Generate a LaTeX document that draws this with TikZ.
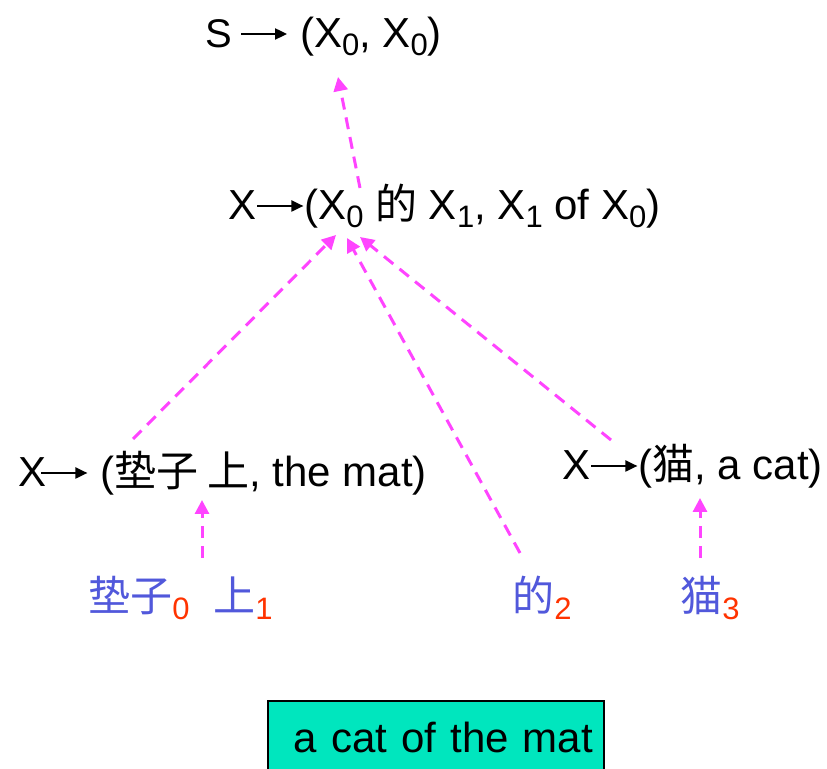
\documentclass[tikz,border=0pt]{standalone}
\usepackage{fontspec}
\usepackage{tikz}
\usetikzlibrary{arrows.meta,positioning,calc}
\setmainfont{Liberation Sans}
\newfontfamily\cjk{Noto Sans CJK SC}
\definecolor{Pink}{HTML}{FF44FF}
\definecolor{WordBlue}{HTML}{5158DB}
\definecolor{IdxRed}{HTML}{FF3300}
\definecolor{Mint}{HTML}{00E6BE}
\newcommand{\lo}[1]{\raisebox{-4pt}{\fontsize{15.5}{15.5}\selectfont#1}}
\newcommand{\rto}{\tikz[baseline=-7pt,x=1pt,y=1pt]\draw[line width=1pt,-{Triangle[length=6pt,width=5.5pt]}] (0,0)--(23,0);}
\newcommand{\word}[2]{{\color{WordBlue}\cjk #1}{\color{IdxRed}\lo{#2}}}

\begin{document}
\begin{tikzpicture}[x=0.5pt,y=-0.5pt,every node/.style={font=\fontsize{21}{24}\selectfont,inner sep=0pt,anchor=base west},
  link/.style={Pink,line width=1.5pt,dash pattern=on 6pt off 4pt,-{Triangle[length=7pt,width=7pt]}}]
  \useasboundingbox (0,0) rectangle (827,769);
  \node (top) at (205,48) {{\fontsize{20}{20}\selectfont S}\hspace{4pt}\rto\hspace{6pt}(X\lo{0}, X\lo{0})};
  \node (mid) at (228,220) {X\rto(X\lo{0} {\cjk 的} X\lo{1}, X\lo{1} of X\lo{0})};
  \node (left) at (18,487) {X\hspace{-3pt}\rto\ ({\cjk 垫子 上}, the mat)};
  \node (right) at (562,480) {X\rto({\cjk 猫}, a cat)};
  \node (w0) at (88,612) {\word{垫子}{0}};
  \node (w1) at (213,612) {\word{上}{1}};
  \node (w2) at (512,612) {\word{的}{2}};
  \node (w3) at (680,612) {\word{猫}{3}};
  \node[anchor=north west,draw,line width=1pt,fill=Mint,text width=168pt,align=left,inner xsep=0pt,minimum height=36pt] (out) at (267,700) {\hspace*{13pt}a cat of the mat};
  \draw[link] ($(mid.base west)+(132,-32)$) -- ($(top.base west)+(133,29)$);
  \draw[link] ($(left.base west)+(115,-48)$) -- ($(mid.base west)+(108,15)$);
  \draw[link] ($(w2.base west)+(8,-59)$) -- ($(mid.base west)+(119,18)$);
  \draw[link] ($(right.base west)+(49,-40)$) -- ($(mid.base west)+(132,17)$);
  \draw[link] ($(w1.base west)+(-11,-54)$) -- ($(left.base west)+(184,13)$);
  \draw[link] ($(w3.base west)+(20,-54)$) -- ($(right.base west)+(138,18)$);
\end{tikzpicture}
\end{document}
